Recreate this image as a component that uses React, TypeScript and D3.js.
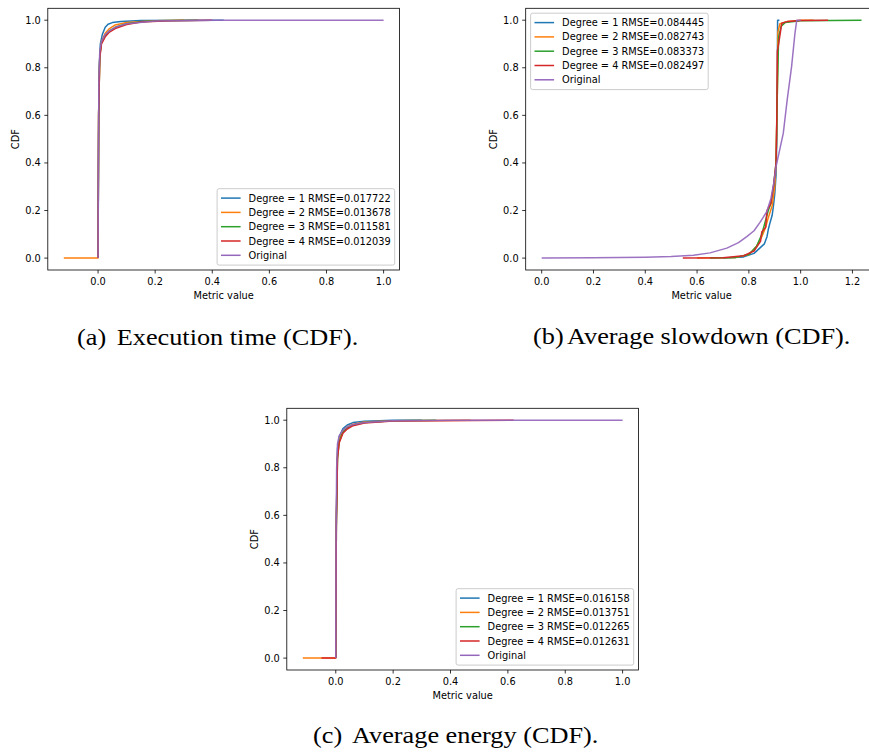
import React from "react";
import * as d3 from "d3";

type Pt = [number, number];

// ---------- Panel (a): Execution time ----------
const execDeg1: Pt[] = [[0, 0], [0.002, 0.5], [0.004, 0.8], [0.008, 0.9], [0.015, 0.94], [0.025, 0.97], [0.035, 0.983], [0.05, 0.99], [0.08, 0.995], [0.15, 0.999], [0.44, 1.0]];
const execDeg2: Pt[] = [[-0.12, 0], [0, 0], [0.002, 0.6], [0.006, 0.85], [0.012, 0.91], [0.025, 0.945], [0.04, 0.965], [0.06, 0.98], [0.1, 0.99], [0.2, 0.998], [0.3, 1.0]];
const execDeg3: Pt[] = [[0, 0], [0.002, 0.6], [0.006, 0.85], [0.012, 0.905], [0.025, 0.935], [0.04, 0.955], [0.06, 0.97], [0.1, 0.985], [0.15, 0.993], [0.2, 0.998], [0.35, 1.0]];
const execDeg4: Pt[] = [[0, 0], [0.002, 0.6], [0.006, 0.84], [0.012, 0.9], [0.025, 0.93], [0.04, 0.95], [0.06, 0.965], [0.1, 0.982], [0.15, 0.992], [0.25, 0.998], [0.4, 1.0]];
const execOrig: Pt[] = [[0, 0], [0.001, 0.4], [0.003, 0.75], [0.006, 0.87], [0.012, 0.91], [0.025, 0.94], [0.04, 0.955], [0.06, 0.97], [0.1, 0.985], [0.2, 0.997], [0.4, 1.0], [1.0, 1.0]];
const execLabels = ["Degree = 1 RMSE=0.017722", "Degree = 2 RMSE=0.013678", "Degree = 3 RMSE=0.011581", "Degree = 4 RMSE=0.012039", "Original"];

// ---------- Panel (b): Average slowdown ----------
const slowDeg1: Pt[] = [[0.7, 0], [0.78, 0.005], [0.82, 0.02], [0.84, 0.04], [0.86, 0.06], [0.87, 0.09], [0.875, 0.12], [0.882, 0.15], [0.89, 0.18], [0.895, 0.22], [0.9, 0.27], [0.905, 0.35], [0.908, 0.5], [0.91, 0.8], [0.911, 1.0], [0.918, 1.0]];
const slowDeg2: Pt[] = [[0.6, 0], [0.75, 0.003], [0.8, 0.015], [0.83, 0.05], [0.85, 0.09], [0.865, 0.13], [0.875, 0.17], [0.89, 0.22], [0.9, 0.3], [0.905, 0.4], [0.91, 0.7], [0.912, 0.95], [0.92, 0.985], [0.95, 0.995], [1.0, 1.0], [1.05, 1.0]];
const slowDeg3: Pt[] = [[0.65, 0], [0.75, 0.003], [0.8, 0.015], [0.83, 0.05], [0.85, 0.1], [0.86, 0.14], [0.875, 0.2], [0.885, 0.23], [0.895, 0.3], [0.905, 0.4], [0.91, 0.7], [0.915, 0.93], [0.925, 0.975], [0.94, 0.99], [1.0, 0.998], [1.235, 1.0]];
const slowDeg4: Pt[] = [[0.545, 0], [0.7, 0.002], [0.78, 0.01], [0.82, 0.03], [0.845, 0.07], [0.85, 0.11], [0.865, 0.13], [0.87, 0.2], [0.885, 0.23], [0.895, 0.3], [0.905, 0.4], [0.908, 0.6], [0.91, 0.87], [0.915, 0.9], [0.927, 0.987], [0.95, 0.995], [1.0, 0.999], [1.106, 1.0]];
const slowOrig: Pt[] = [[0, 0], [0.2, 0.001], [0.4, 0.004], [0.5, 0.007], [0.586, 0.012], [0.65, 0.022], [0.715, 0.042], [0.76, 0.065], [0.792, 0.09], [0.82, 0.115], [0.843, 0.15], [0.869, 0.195], [0.885, 0.25], [0.897, 0.32], [0.905, 0.385], [0.918, 0.45], [0.933, 0.525], [0.948, 0.665], [0.965, 0.805], [0.978, 0.945], [0.985, 1.0], [1.0, 1.0]];
const slowLabels = ["Degree = 1 RMSE=0.084445", "Degree = 2 RMSE=0.082743", "Degree = 3 RMSE=0.083373", "Degree = 4 RMSE=0.082497", "Original"];

// ---------- Panel (c): Average energy ----------
const energyDeg1: Pt[] = [[0, 0], [0.002, 0.6], [0.006, 0.88], [0.012, 0.93], [0.025, 0.965], [0.04, 0.98], [0.06, 0.99], [0.1, 0.996], [0.2, 1.0], [0.3, 1.0]];
const energyDeg2: Pt[] = [[-0.115, 0], [0, 0], [0.002, 0.6], [0.006, 0.86], [0.012, 0.92], [0.025, 0.955], [0.04, 0.972], [0.06, 0.983], [0.1, 0.992], [0.2, 0.998], [0.47, 1.0]];
const energyDeg3: Pt[] = [[0, 0], [0.002, 0.55], [0.006, 0.84], [0.012, 0.91], [0.025, 0.95], [0.04, 0.968], [0.06, 0.98], [0.1, 0.99], [0.2, 0.998], [0.35, 1.0]];
const energyDeg4: Pt[] = [[-0.05, 0], [0, 0], [0.002, 0.55], [0.006, 0.84], [0.012, 0.905], [0.025, 0.945], [0.04, 0.963], [0.06, 0.977], [0.1, 0.988], [0.2, 0.997], [0.62, 1.0]];
const energyOrig: Pt[] = [[0, 0], [0.001, 0.5], [0.003, 0.8], [0.006, 0.9], [0.012, 0.935], [0.025, 0.958], [0.04, 0.972], [0.06, 0.982], [0.1, 0.99], [0.2, 0.998], [0.4, 1.0], [1.0, 1.0]];
const energyLabels = ["Degree = 1 RMSE=0.016158", "Degree = 2 RMSE=0.013751", "Degree = 3 RMSE=0.012265", "Degree = 4 RMSE=0.012631", "Original"];

const xTicksA = [0, 0.2, 0.4, 0.6, 0.8, 1.0];
const xTicksB = [0, 0.2, 0.4, 0.6, 0.8, 1.0, 1.2];
const yTicks = [0, 0.2, 0.4, 0.6, 0.8, 1.0];

const captionTags = ["(a)", "(b)", "(c)"];
const captionTexts = ["Execution time (CDF).", "Average slowdown (CDF).", "Average energy (CDF)."];

const colors = ["#1f77b4", "#ff7f0e", "#2ca02c", "#d62728", "#9467bd"];

const FONT = "DejaVu Sans";
const FS = 9.8;

interface PanelProps {
  left: number;
  top: number;
  width: number;
  height: number;
  series: Pt[][];
  labels: string[];
  xTicks: number[];
  legendPos: "lower right" | "upper left";
}

function Panel({ left, top, width, height, series, labels, xTicks, legendPos }: PanelProps) {
  const allX = series.flat().map((d) => d[0]);
  const [xmin, xmax] = d3.extent(allX) as [number, number];
  const pad = (xmax - xmin) * 0.05;
  const x = d3.scaleLinear().domain([xmin - pad, xmax + pad]).range([left, left + width]);
  const y = d3.scaleLinear().domain([-0.05, 1.05]).range([top + height, top]);
  const line = d3.line<Pt>().x((d) => x(d[0])).y((d) => y(d[1]));
  const bottom = top + height;
  const clipId = `clip-${Math.round(left)}-${Math.round(top)}`;

  const lw = 177.6;
  const lh = 76.4;
  const bap = 4.9;
  const lx = legendPos === "lower right" ? left + width - bap - lw : left + bap;
  const ly = legendPos === "lower right" ? bottom - bap - lh : top + bap;

  return (
    <g>
      <defs>
        <clipPath id={clipId}>
          <rect x={left} y={top} width={width} height={height} />
        </clipPath>
      </defs>
      <g clipPath={`url(#${clipId})`}>
        {series.map((s, i) => (
          <path
            key={i}
            d={line(s) || ""}
            fill="none"
            stroke={colors[i]}
            strokeWidth={1.5}
            strokeOpacity={i === 4 ? 0.92 : 1}
            strokeLinejoin="round"
          />
        ))}
      </g>
      <rect x={left} y={top} width={width} height={height} fill="none" stroke="#000" strokeWidth={0.8} />
      {xTicks.map((t) => (
        <g key={t}>
          <line x1={x(t)} x2={x(t)} y1={bottom} y2={bottom + 3.5} stroke="#000" strokeWidth={0.8} />
          <text x={x(t)} y={bottom + 14.5} fontFamily={FONT} fontSize={FS} textAnchor="middle" fill="#000">
            {t.toFixed(1)}
          </text>
        </g>
      ))}
      {yTicks.map((t) => (
        <g key={t}>
          <line x1={left - 3.5} x2={left} y1={y(t)} y2={y(t)} stroke="#000" strokeWidth={0.8} />
          <text x={left - 7} y={y(t)} dy="0.36em" fontFamily={FONT} fontSize={FS} textAnchor="end" fill="#000">
            {t.toFixed(1)}
          </text>
        </g>
      ))}
      <text x={left + width / 2} y={bottom + 28.5} fontFamily={FONT} fontSize={FS} textAnchor="middle" fill="#000">
        Metric value
      </text>
      <text
        transform={`translate(${left - 28.5},${top + height / 2}) rotate(-90)`}
        fontFamily={FONT}
        fontSize={FS}
        textAnchor="middle"
        fill="#000"
      >
        CDF
      </text>
      <g>
        <rect x={lx} y={ly} width={lw} height={lh} rx={2} ry={2} fill="#fff" fillOpacity={0.8} stroke="#cccccc" strokeWidth={1} />
        {labels.map((lab, i) => {
          const cy = ly + 9.4 + i * 14.3;
          return (
            <g key={lab}>
              <line x1={lx + 3.9} x2={lx + 23.5} y1={cy} y2={cy} stroke={colors[i]} strokeWidth={1.5} />
              <text x={lx + 31.5} y={cy} dy="0.36em" fontFamily={FONT} fontSize={FS} fill="#000">
                {lab}
              </text>
            </g>
          );
        })}
      </g>
    </g>
  );
}

const SERIF = "Liberation Serif, Times New Roman, serif";
const CAP = 26.3;
const SQUASH = 0.84;

function Caption({ tag, text, tagX, textX, baseY }: { tag: string; text: string; tagX: number; textX: number; baseY: number }) {
  return (
    <g fontFamily={SERIF} fontSize={CAP} fill="#000">
      <text transform={`translate(${tagX},${baseY}) scale(1,${SQUASH})`}>{tag}</text>
      <text transform={`translate(${textX},${baseY}) scale(1,${SQUASH})`}>{text}</text>
    </g>
  );
}

export default function App() {
  return (
    <svg
      width={869}
      height={754}
      viewBox="0 0 869 754"
      style={{ position: "absolute", left: 0, top: 0, background: "#fff" }}
    >
      <rect x={0} y={0} width={869} height={754} fill="#fff" />
      <Panel
        left={47.8}
        top={8.3}
        width={351.8}
        height={261.7}
        series={[execDeg1, execDeg2, execDeg3, execDeg4, execOrig]}
        labels={execLabels}
        xTicks={xTicksA}
        legendPos="lower right"
      />
      <Panel
        left={525.7}
        top={8.3}
        width={351.8}
        height={261.7}
        series={[slowDeg1, slowDeg2, slowDeg3, slowDeg4, slowOrig]}
        labels={slowLabels}
        xTicks={xTicksB}
        legendPos="upper left"
      />
      <Panel
        left={286.8}
        top={408.3}
        width={351.8}
        height={261.7}
        series={[energyDeg1, energyDeg2, energyDeg3, energyDeg4, energyOrig]}
        labels={energyLabels}
        xTicks={xTicksA}
        legendPos="lower right"
      />
      <Caption tag={captionTags[0]} text={captionTexts[0]} tagX={77} textX={116.7} baseY={345} />
      <Caption tag={captionTags[1]} text={captionTexts[1]} tagX={533} textX={567} baseY={343.5} />
      <Caption tag={captionTags[2]} text={captionTexts[2]} tagX={313} textX={352} baseY={743.3} />
    </svg>
  );
}
